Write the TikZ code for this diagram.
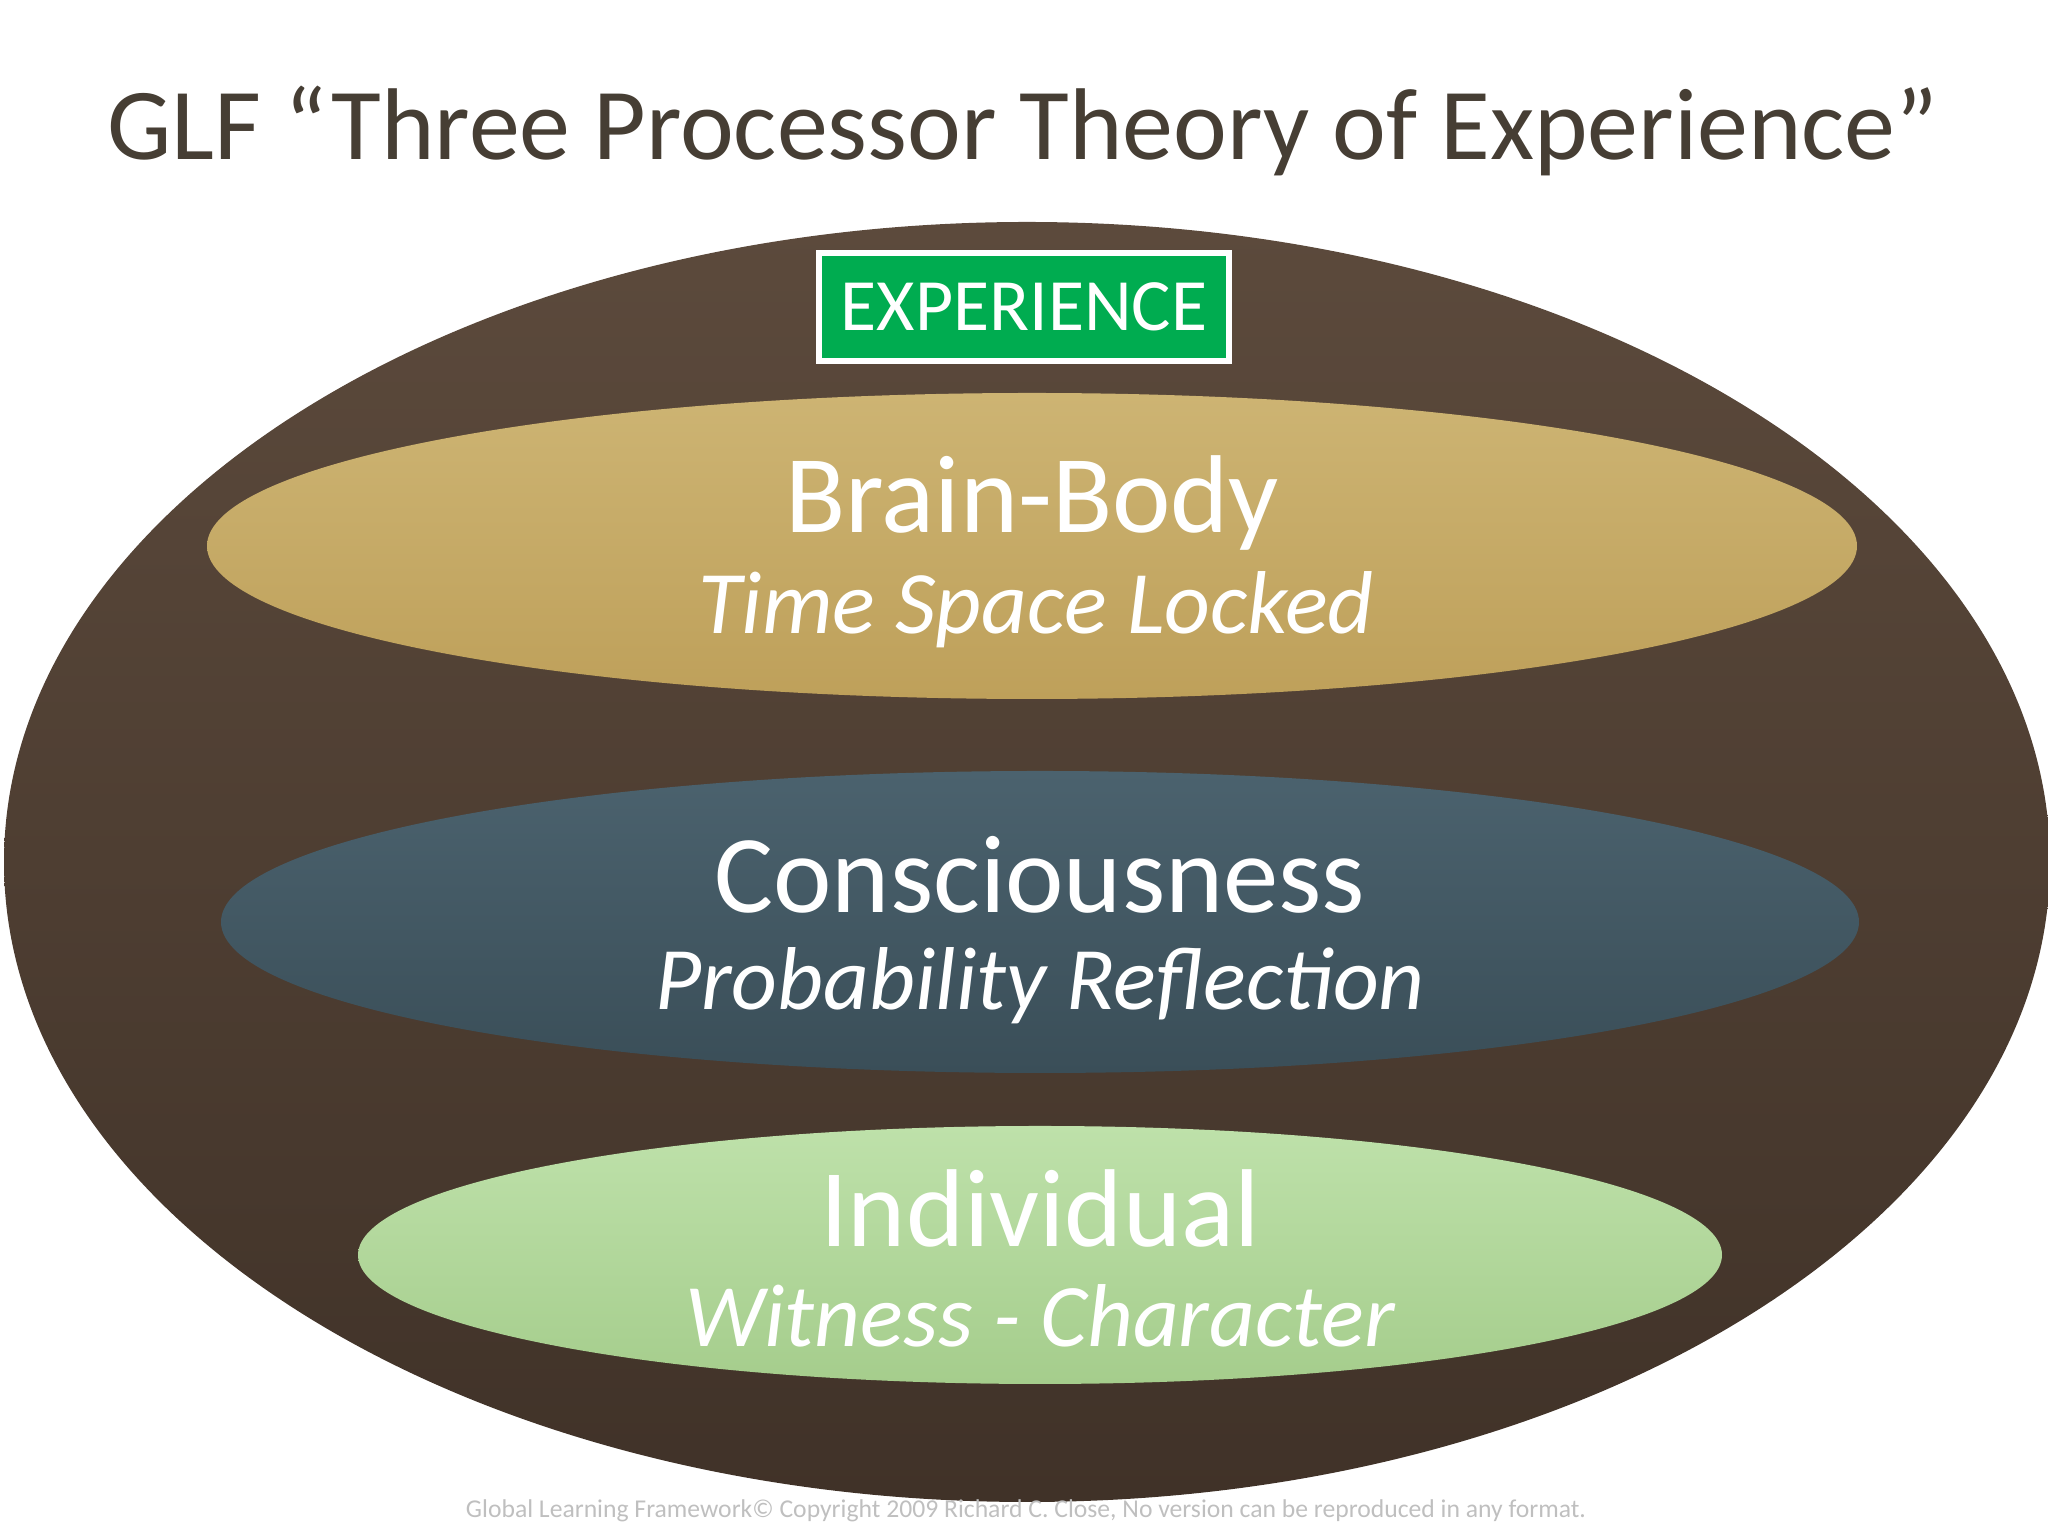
\documentclass[tikz,border=0pt]{standalone}
\usepackage{fontspec}
\setmainfont{Carlito}
\begin{document}
\begin{tikzpicture}
\useasboundingbox (0,0) rectangle (20.48,15.36);
\definecolor{titlec}{RGB}{70,62,52}
\definecolor{brownT}{RGB}{92,74,60}
\definecolor{brownB}{RGB}{64,50,40}
\definecolor{goldT}{RGB}{205,180,115}
\definecolor{goldB}{RGB}{190,160,90}
\definecolor{blueT}{RGB}{75,98,110}
\definecolor{blueB}{RGB}{58,78,88}
\definecolor{greenT}{RGB}{190,225,170}
\definecolor{greenB}{RGB}{165,205,140}
\definecolor{expg}{RGB}{0,172,80}
\tikzset{
  main/.style={text=white,font=\fontsize{31.5}{36}\selectfont},
  sub/.style={text=white,font=\fontsize{25.4}{30}\selectfont\itshape},
}
\node (title) [text=titlec,font=\fontsize{29}{34}\selectfont] at (10.23,14.05) {GLF “Three Processor Theory of Experience”};
\shade[top color=brownT,bottom color=brownB] (10.27,6.74) ellipse [x radius=10.23,y radius=6.40];
\shade[top color=goldT,bottom color=goldB] (10.32,9.90) ellipse [x radius=8.25,y radius=1.53];
\shade[top color=blueT,bottom color=blueB] (10.40,6.14) ellipse [x radius=8.19,y radius=1.51];
\shade[top color=greenT,bottom color=greenB] (10.40,2.81) ellipse [x radius=6.82,y radius=1.29];
\node (exp) [draw=white,line width=1.5pt,fill=expg,text=white,minimum width=4.1cm,minimum height=1.08cm,font=\fontsize{21}{24}\selectfont] at (10.24,12.29) {EXPERIENCE};
\node (bb) [main] at (10.32,10.33) {Brain-Body};
\node (bbs) [sub] at (10.36,9.26) {Time Space Locked};
\node (co) [main] at (10.40,6.61) {Consciousness};
\node (cos) [sub] at (10.40,5.50) {Probability Reflection};
\node (in) [main] at (10.40,3.28) {Individual};
\node (ins) [sub] at (10.40,2.20) {Witness - Character};
\node (foot) [text=black!25,font=\fontsize{7.3}{9}\selectfont] at (10.26,0.25) {Global Learning Framework© Copyright 2009 Richard C. Close, No version can be reproduced in any format.};
\end{tikzpicture}
\end{document}
